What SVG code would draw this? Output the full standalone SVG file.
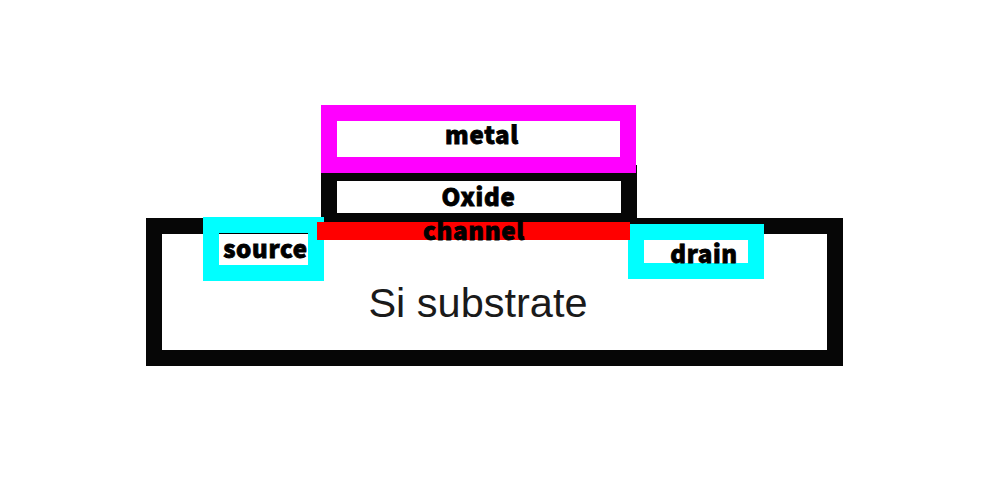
<svg xmlns="http://www.w3.org/2000/svg" width="1000" height="500" viewBox="0 0 1000 500">
<style>
.box{fill:#fff;stroke-width:16;stroke-linejoin:miter}
.k{stroke:#060606}
.c{stroke:#00ffff}
.m{stroke:#ff00ff}
.t{font-family:"Noto Sans CJK KR","Noto Sans",sans-serif;font-weight:900;font-size:24px;fill:#000;stroke:#000;stroke-width:0.8px;letter-spacing:0.7px;text-anchor:middle}
</style>
<rect width="1000" height="500" fill="#fff"/>
<g id="substrate">
<rect class="box k" x="154" y="226" width="681" height="132"/>
<text x="478" y="316.500" font-family="Liberation Sans, Arial, sans-serif" font-size="41.5" fill="#1a1a1a" text-anchor="middle">Si substrate</text>
</g>
<g id="oxide">
<rect class="box k" x="329" y="173" width="300" height="48"/>
<text class="t" x="478.500" y="206">Oxide</text>
</g>
<g id="metal">
<rect class="box m" x="329" y="113" width="299" height="52"/>
<text class="t" x="482" y="144">metal</text>
</g>
<g id="source">
<rect class="box c" x="211" y="225" width="105" height="48"/>
<rect x="219" y="233" width="89" height="1" fill="#000"/>
<text class="t" x="265.500" y="258">source</text>
</g>
<g id="drain">
<rect class="box c" x="636" y="232" width="120" height="39"/>
<text class="t" x="704" y="263">drain</text>
</g>
<g id="channel">
<rect x="317" y="222" width="313" height="18" fill="#ff0000"/>
<text class="t" x="474" y="240">channel</text>
</g>
</svg>
